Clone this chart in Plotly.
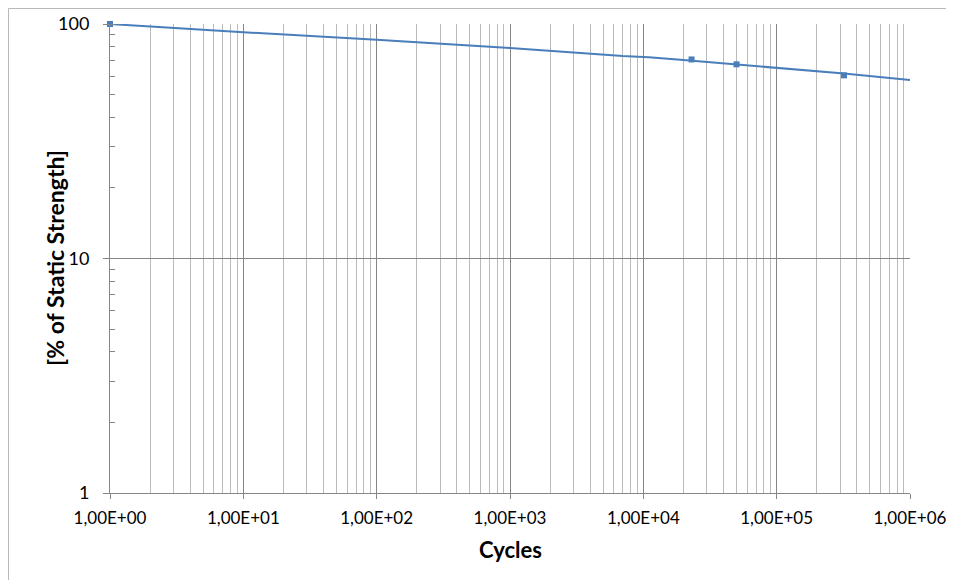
import plotly.graph_objects as go

# Line series
line_cycles = [1, 10, 100, 1000, 7000, 11000, 20000, 50000, 100000, 320000, 1000000]
line_strength = [100, 92.2, 85.7, 79.0, 73.0, 72.1, 70.2, 67.3, 65.1, 61.5, 57.7]

# Marker points
pt_cycles = [1, 23000, 50000, 320000]
pt_strength = [100, 70.6, 67.3, 60.4]

x_tickvals = [1, 10, 100, 1000, 10000, 100000, 1000000]
x_ticktext = ["1,00E+00", "1,00E+01", "1,00E+02", "1,00E+03", "1,00E+04", "1,00E+05", "1,00E+06"]
y_tickvals = [1, 10, 100]
y_ticktext = ["1", "10", "100"]

x_title = "Cycles"
y_title = "[% of Static Strength]"

BLUE = "#4A7EBB"
GRID_MAJ = "#868686"
GRID_MIN = "#BBBBBB"
FONT = "Lato"

W, H = 946, 572
L, R, T, B = 102, 44, 16, 87
PW, PH = W - L - R, H - T - B

fig = go.Figure()
fig.add_trace(go.Scatter(x=line_cycles, y=line_strength, mode="lines",
                         line=dict(color=BLUE, width=2), showlegend=False))
fig.add_trace(go.Scatter(x=pt_cycles, y=pt_strength, mode="markers", cliponaxis=False,
                         marker=dict(symbol="square", size=6, color=BLUE), showlegend=False))

fig.update_layout(
    width=W, height=H,
    margin=dict(l=L, r=R, t=T, b=B, autoexpand=False),
    paper_bgcolor="white", plot_bgcolor="white",
    font=dict(family=FONT, color="black", size=18),
    xaxis=dict(
        type="log", range=[0, 6], automargin=False,
        tickvals=x_tickvals, ticktext=x_ticktext,
        tickfont=dict(size=17, family=FONT),
        ticks="outside", ticklen=5, tickcolor=GRID_MAJ,
        ticklabelstandoff=5,
        showgrid=True, gridcolor=GRID_MAJ, gridwidth=1,
        showline=True, linecolor=GRID_MAJ, linewidth=1,
        minor=dict(dtick="D1", showgrid=True, gridcolor=GRID_MIN, gridwidth=1, ticks=""),
        zeroline=False,
    ),
    yaxis=dict(
        type="log", range=[0, 2], automargin=False,
        tickvals=y_tickvals, ticktext=y_ticktext,
        tickfont=dict(size=18, family=FONT),
        ticks="outside", ticklen=6, tickcolor=GRID_MAJ,
        ticklabelstandoff=10,
        showgrid=True, gridcolor=GRID_MAJ, gridwidth=1,
        showline=True, linecolor=GRID_MAJ, linewidth=1,
        minor=dict(dtick="D1", showgrid=False, ticks="inside", ticklen=5, tickcolor=GRID_MAJ),
        zeroline=False,
    ),
    annotations=[
        dict(text="<b>" + x_title + "</b>", xref="paper", yref="paper",
             x=0.5, y=(PH + T - (541)) / PH, xanchor="center", yanchor="middle",
             showarrow=False, font=dict(size=22, family=FONT, color="black")),
        dict(text="<b>" + y_title + "</b>", xref="paper", yref="paper",
             x=(47 - L) / PW, y=(PH + T - 250) / PH, xanchor="center", yanchor="middle",
             textangle=-90, showarrow=False, font=dict(size=23, family=FONT, color="black")),
    ],
    shapes=[dict(type="rect", xref="paper", yref="paper",
                 x0=(0.5 - L) / PW, x1=(W + 100 - L) / PW,
                 y0=(PH + T - (H + 100)) / PH, y1=(PH + T - 0.5) / PH,
                 line=dict(color="#B8B8B8", width=1), layer="below")],
)

fig.write_html("out.html")
